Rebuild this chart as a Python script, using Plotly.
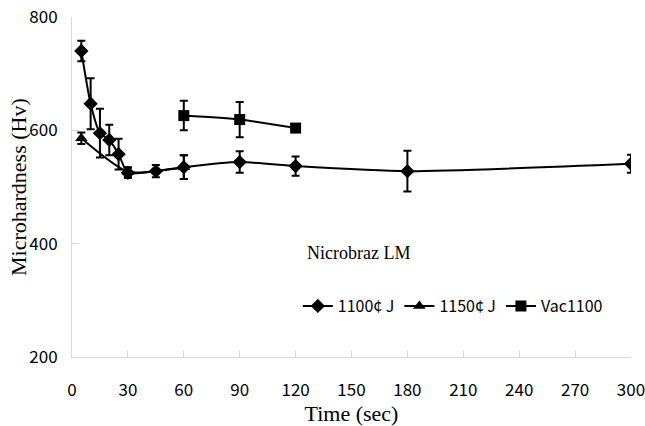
import plotly.graph_objects as go

# Data
x_1100 = [5, 10, 15, 20, 25, 30, 45, 60, 90, 120, 180, 300]
y_1100 = [740, 647, 595, 583, 558, 525, 528, 535, 544, 537, 528, 541]
e_1100 = [18, 45, 43, 27, 27, 9, 11, 21, 19, 17, 36, 16]

x_1150 = [5, 30, 60]
y_1150 = [586, 527, 535]
e_1150 = [10, 8, 21]

x_vac = [60, 90, 120]
y_vac = [626, 619, 604]
e_vac = [26, 31, 0]

names = ["1100¢ J", "1150¢ J", "Vac1100"]

fig = go.Figure()
for xs, ys, es, nm, sym in [
    (x_1100, y_1100, e_1100, names[0], "diamond"),
    (x_1150, y_1150, e_1150, names[1], "triangle-up"),
    (x_vac, y_vac, e_vac, names[2], "square"),
]:
    fig.add_trace(go.Scatter(
        x=xs, y=ys, name=nm, mode="lines+markers",
        line=dict(color="black", width=2, shape="spline", smoothing=0.6),
        marker=dict(symbol=sym, size=11, color="black"),
        error_y=dict(type="data", array=es, visible=True, color="black",
                     thickness=2, width=4),
    ))

fig.add_annotation(text="Nicrobraz LM", x=0.513, y=0.305, xref="paper", yref="paper",
                   showarrow=False, xanchor="center", yanchor="middle",
                   font=dict(family="Liberation Serif", size=18, color="black"))
fig.add_annotation(text="Microhardness (Hv)", x=0, y=0.5, xref="paper", yref="paper",
                   xshift=-54, textangle=-90, showarrow=False,
                   xanchor="center", yanchor="middle",
                   font=dict(family="Liberation Serif", size=22, color="black"))

fig.update_layout(
    width=645, height=426,
    margin=dict(l=72, r=14, t=17, b=69),
    paper_bgcolor="white", plot_bgcolor="white",
    showlegend=True,
    legend=dict(orientation="h", x=0.404, y=0.15, xanchor="left", yanchor="middle",
                font=dict(family="Noto Sans CJK KR", size=16, color="black"),
                bgcolor="rgba(0,0,0,0)", itemwidth=30, tracegroupgap=0),
    font=dict(family="Noto Sans CJK KR", size=16, color="black"),
)
fig.update_xaxes(
    range=[0, 300], tickvals=[0, 30, 60, 90, 120, 150, 180, 210, 240, 270, 300],
    showgrid=False, zeroline=False, showline=True, linecolor="#d9d9d9", linewidth=1,
    ticks="inside", ticklen=6, tickcolor="#d9d9d9", ticklabelstandoff=18,
    automargin=False, ticklabeloverflow="allow",
    tickfont=dict(family="Noto Sans CJK KR", size=17, color="black"),
    title=dict(text="Time (sec)", font=dict(family="Liberation Serif", size=22, color="black"),
               standoff=2),
)
fig.update_yaxes(
    range=[200, 800], tickvals=[200, 400, 600, 800],
    showgrid=False, zeroline=False, showline=True, linecolor="#d9d9d9", linewidth=1,
    ticks="inside", ticklen=7, tickcolor="#d9d9d9", ticklabelstandoff=10,
    automargin=False, ticklabeloverflow="allow",
    tickfont=dict(family="Noto Sans CJK KR", size=17, color="black"),
)

# remove the default page margin so the figure fills the window exactly
fig.write_html("out.html", config={"displayModeBar": False},
               post_script="document.body.style.margin='0';")
